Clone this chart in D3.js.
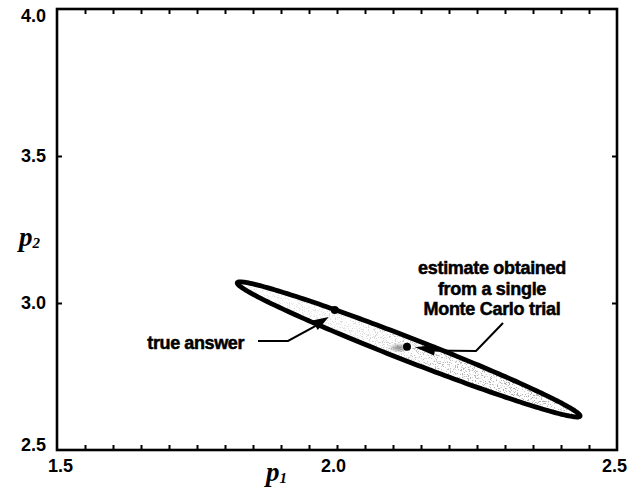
<!DOCTYPE html>
<html>
<head>
<meta charset="utf-8">
<script src="https://cdn.jsdelivr.net/npm/d3@7"></script>
<style>
  body { margin: 0; background: #fff; }
  svg { display: block; }
</style>
</head>
<body>
<svg id="chart" width="629" height="488"></svg>
<script>
// Parameter space and tick labelling
const xDomain = [1.5, 2.5];
const yDomain = [2.5, 4.0];
const xTickLabels = [1.5, 2.0, 2.5];
const yTickLabels = [2.5, 3.0, 3.5, 4.0];
const xTickMarks = [1.55, 1.6, 1.65, 1.7, 1.75, 1.8, 1.85, 1.9, 1.95, 2.0,
                    2.05, 2.1, 2.15, 2.2, 2.25, 2.3, 2.35, 2.4, 2.45];
const yTickMarks = [3.0, 3.5];

// Confidence ellipse: centre, end of the major semi-axis, end of the minor semi-axis (p1, p2)
const ellipseCenter = [2.128, 2.842];
const ellipseMajorEnd = [2.434, 2.615];
const ellipseMinorEnd = [2.1206, 2.8055];

// True parameters and the estimate from one Monte Carlo trial (p1, p2)
const trueAnswer = [1.996, 2.976];
const mcEstimate = [2.125, 2.851];

const svg = d3.select("#chart");
const W = 629, H = 488;
const plotL = 57, plotR = 617, plotT = 9, plotB = 450;

const x = d3.scaleLinear().domain(xDomain).range([plotL, plotR]);
const y = d3.scaleLinear().domain(yDomain).range([plotB, plotT]);

const sans = "'Liberation Sans', Arial, Helvetica, sans-serif";
const serif = "'Liberation Serif', 'Times New Roman', serif";

// Ellipse outline traced in data space, mapped through the scales
const steps = 240;
const ellipsePts = d3.range(steps).map(i => {
  const t = 2 * Math.PI * i / steps;
  const c = Math.cos(t), s = Math.sin(t);
  const p1 = ellipseCenter[0] + c * (ellipseMajorEnd[0] - ellipseCenter[0]) + s * (ellipseMinorEnd[0] - ellipseCenter[0]);
  const p2 = ellipseCenter[1] + c * (ellipseMajorEnd[1] - ellipseCenter[1]) + s * (ellipseMinorEnd[1] - ellipseCenter[1]);
  return [x(p1), y(p2)];
});
const ellipsePath = d3.line().curve(d3.curveLinearClosed)(ellipsePts);

const defs = svg.append("defs");
defs.append("clipPath").attr("id", "inside").append("path").attr("d", ellipsePath);

// Grainy cloud of trial estimates inside the ellipse
const grain = defs.append("filter").attr("id", "grain")
  .attr("filterUnits", "userSpaceOnUse")
  .attr("x", 0).attr("y", 0).attr("width", W).attr("height", H);
grain.append("feTurbulence").attr("type", "fractalNoise")
  .attr("baseFrequency", 0.85).attr("numOctaves", 2).attr("seed", 11).attr("result", "noise");
grain.append("feColorMatrix").attr("in", "noise").attr("type", "matrix")
  .attr("values", "0 0 0 0 0.4  0 0 0 0 0.4  0 0 0 0 0.4  9 0 0 0 -5.0")
  .attr("result", "dots");
grain.append("feComposite").attr("in", "dots").attr("in2", "SourceGraphic").attr("operator", "in");

const xs = ellipsePts.map(d => d[0]), ys = ellipsePts.map(d => d[1]);
const bx0 = d3.min(xs), bx1 = d3.max(xs), by0 = d3.min(ys), by1 = d3.max(ys);

const grad = defs.append("linearGradient").attr("id", "density")
  .attr("gradientUnits", "userSpaceOnUse")
  .attr("x1", x(2 * ellipseCenter[0] - ellipseMajorEnd[0])).attr("y1", y(2 * ellipseCenter[1] - ellipseMajorEnd[1]))
  .attr("x2", x(ellipseMajorEnd[0])).attr("y2", y(ellipseMajorEnd[1]));
[[0, 0.25], [0.35, 0.4], [0.55, 0.75], [0.8, 1], [1, 0.8]].forEach(([o, a]) =>
  grad.append("stop").attr("offset", o).attr("stop-color", "#000").attr("stop-opacity", a));

const cloud = svg.append("g").attr("clip-path", "url(#inside)");
cloud.append("g").attr("filter", "url(#grain)")
  .append("rect").attr("x", bx0).attr("y", by0)
  .attr("width", bx1 - bx0).attr("height", by1 - by0)
  .attr("fill", "url(#density)");

// Darker smudge next to the trial estimate
const smudge = defs.append("radialGradient").attr("id", "smudge");
smudge.append("stop").attr("offset", 0).attr("stop-color", "#444").attr("stop-opacity", 0.6);
smudge.append("stop").attr("offset", 1).attr("stop-color", "#444").attr("stop-opacity", 0);
cloud.append("ellipse")
  .attr("cx", x(mcEstimate[0]) - 8).attr("cy", y(mcEstimate[1]) + 1)
  .attr("rx", 11).attr("ry", 5).attr("fill", "url(#smudge)");

// Ellipse outline
svg.append("path").attr("d", ellipsePath)
  .attr("fill", "none").attr("stroke", "#000").attr("stroke-width", 4.8);

// Points
svg.selectAll("circle.pt").data([trueAnswer, mcEstimate]).join("circle")
  .attr("class", "pt")
  .attr("cx", d => x(d[0])).attr("cy", d => y(d[1])).attr("r", 4).attr("fill", "#000");

// Frame
svg.append("rect").attr("x", plotL).attr("y", plotT)
  .attr("width", plotR - plotL).attr("height", plotB - plotT)
  .attr("fill", "none").attr("stroke", "#000").attr("stroke-width", 2.6);

// Inward tick marks on all four sides
function ticks(g) {
  g.select(".domain").remove();
  g.selectAll(".tick line").attr("stroke", "#000").attr("stroke-width", 2);
  g.selectAll(".tick text").remove();
}
svg.append("g").attr("transform", `translate(0,${plotB})`)
  .call(d3.axisBottom(x).tickValues(xTickMarks).tickSize(-5)).call(ticks);
svg.append("g").attr("transform", `translate(0,${plotT})`)
  .call(d3.axisTop(x).tickValues(xTickMarks).tickSize(-5)).call(ticks);
svg.append("g").attr("transform", `translate(${plotL},0)`)
  .call(d3.axisLeft(y).tickValues(yTickMarks).tickSize(-5)).call(ticks);
svg.append("g").attr("transform", `translate(${plotR},0)`)
  .call(d3.axisRight(y).tickValues(yTickMarks).tickSize(-5)).call(ticks);

// Tick labels
function labels(g) {
  g.select(".domain").remove();
  g.selectAll(".tick line").remove();
  g.selectAll(".tick text").attr("font-family", sans).attr("font-weight", "bold")
    .attr("font-size", 18).attr("fill", "#000");
}
const xl = svg.append("g").attr("transform", `translate(0,${plotB})`)
  .call(d3.axisBottom(x).tickValues(xTickLabels).tickSize(0).tickPadding(9).tickFormat(d3.format(".1f")))
  .call(labels);
xl.selectAll(".tick text").attr("dx", d => d === 2.0 ? -4 : (d === 2.5 ? -3 : 3));

const yl = svg.append("g").attr("transform", `translate(${plotL},0)`)
  .call(d3.axisLeft(y).tickValues(yTickLabels).tickSize(0).tickPadding(11).tickFormat(d3.format(".1f")))
  .call(labels);
yl.selectAll(".tick text").attr("dy", d => d === 4.0 ? "0.72em" : (d === 2.5 ? "0.05em" : "0.32em"));

// Axis titles
const xt = svg.append("text").attr("x", 266).attr("y", 481)
  .attr("font-family", serif).attr("font-style", "italic").attr("font-weight", "bold")
  .attr("font-size", 27).attr("fill", "#000");
xt.append("tspan").text("p");
xt.append("tspan").attr("font-size", 15).attr("dy", 2).text("1");

const yt = svg.append("text").attr("x", 19).attr("y", 246)
  .attr("font-family", serif).attr("font-style", "italic").attr("font-weight", "bold")
  .attr("font-size", 27).attr("fill", "#000");
yt.append("tspan").text("p");
yt.append("tspan").attr("font-size", 15).attr("dy", 2).text("2");

// Annotations (heavy sans, thickened with a thin matching stroke)
const noteFont = g => g.attr("font-family", sans).attr("font-weight", "bold")
  .attr("font-size", 18).attr("fill", "#000")
  .attr("stroke", "#000").attr("stroke-width", 0.5);

svg.append("text").attr("x", 244).attr("y", 349).attr("text-anchor", "end")
  .call(noteFont).attr("letter-spacing", -0.4).text("true answer");

const mc = svg.append("text").attr("text-anchor", "middle").call(noteFont).attr("letter-spacing", -0.3);
["estimate obtained", "from a single", "Monte Carlo trial"].forEach((s, i) =>
  mc.append("tspan").attr("x", 492).attr("y", 274 + i * 20.5).text(s));

function arrowHead(tip, from, len, half) {
  const dx = tip[0] - from[0], dy = tip[1] - from[1];
  const L = Math.hypot(dx, dy), ux = dx / L, uy = dy / L;
  const bxp = tip[0] - ux * len, byp = tip[1] - uy * len;
  return [[tip[0], tip[1]], [bxp - uy * half, byp + ux * half], [bxp + uy * half, byp - ux * half]];
}

// Leader to the true answer
const taTip = [x(trueAnswer[0]) - 6, y(trueAnswer[1]) + 7];
svg.append("path").attr("d", d3.line()([[258, 341], [288, 341], [taTip[0] - 8, taTip[1] + 6]]))
  .attr("fill", "none").attr("stroke", "#000").attr("stroke-width", 2);
svg.append("polygon").attr("points", arrowHead(taTip, [288, 341], 16, 5.5).join(" ")).attr("fill", "#000");

// Leader to the trial estimate
const mcTip = [x(mcEstimate[0]) + 8, y(mcEstimate[1]) + 0.5];
svg.append("path").attr("d", d3.line()([[503, 323], [476, 351], [mcTip[0] + 14, 350.5]]))
  .attr("fill", "none").attr("stroke", "#000").attr("stroke-width", 2);
svg.append("polygon").attr("points", arrowHead(mcTip, [mcTip[0] + 30, 351.5], 20, 5.5).join(" ")).attr("fill", "#000");
</script>
</body>
</html>
